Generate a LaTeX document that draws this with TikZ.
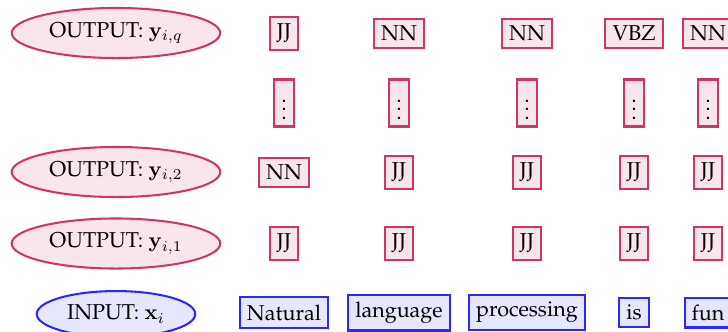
\documentclass[tikz,border=0pt]{standalone}
\usepackage[T1]{fontenc}
\renewcommand{\rmdefault}{ppl}
\usetikzlibrary{shapes.geometric}
\definecolor{outline}{RGB}{208,52,104}
\definecolor{outfill}{RGB}{249,230,236}
\definecolor{inline}{RGB}{40,40,255}
\definecolor{infill}{RGB}{230,230,252}
\tikzset{
  outell/.style={ellipse, draw=outline, fill=outfill, line width=0.95pt},
  inell/.style={ellipse, draw=inline, fill=infill, line width=0.95pt},
  tagbox/.style={rectangle, draw=outline, fill=outfill, line width=0.95pt},
  wordbox/.style={rectangle, draw=inline, fill=infill, line width=0.95pt},
}
\begin{document}
\begin{tikzpicture}[x=0.465pt, y=-0.465pt]
\useasboundingbox (0,0) rectangle (728,331);
\clip (0,0) rectangle (728,331);
% left labels
\node[outell] (eq) at (116,33) {OUTPUT: $\mathbf{y}_{i,q}$};
\node[outell] (e2) at (116,172) {OUTPUT: $\mathbf{y}_{i,2}$};
\node[outell] (e1) at (116,243.5) {OUTPUT: $\mathbf{y}_{i,1}$};
\node[inell] (ein) at (116,314) {INPUT: $\mathbf{x}_{i}$};
% row q
\node[tagbox] (q1) at (284,33.5) {JJ};
\node[tagbox] (q2) at (399,33.5) {NN};
\node[tagbox] (q3) at (527,33.5) {NN};
\node[tagbox] (q4) at (634,33.5) {VBZ};
\node[tagbox] (q5) at (708,33.5) {NN};
% dots row
\node[tagbox] (d1) at (284,103) {$\vdots$};
\node[tagbox] (d2) at (399,103) {$\vdots$};
\node[tagbox] (d3) at (527,103) {$\vdots$};
\node[tagbox] (d4) at (634,103) {$\vdots$};
\node[tagbox] (d5) at (708,103) {$\vdots$};
% row 2
\node[tagbox] (b1) at (284,172.5) {NN};
\node[tagbox] (b2) at (399,172.5) {JJ};
\node[tagbox] (b3) at (527,172.5) {JJ};
\node[tagbox] (b4) at (634,172.5) {JJ};
\node[tagbox] (b5) at (708,172.5) {JJ};
% row 1
\node[tagbox] (a1) at (284,243.5) {JJ};
\node[tagbox] (a2) at (399,243.5) {JJ};
\node[tagbox] (a3) at (527,243.5) {JJ};
\node[tagbox] (a4) at (634,243.5) {JJ};
\node[tagbox] (a5) at (708,243.5) {JJ};
% input
\node[wordbox] (w1) at (284,312.5) {Natural};
\node[wordbox] (w2) at (399,312.5) {language};
\node[wordbox] (w3) at (527,312.5) {processing};
\node[wordbox] (w4) at (634,312.5) {is};
\node[wordbox] (w5) at (708,312.5) {fun};
\end{tikzpicture}
\end{document}
